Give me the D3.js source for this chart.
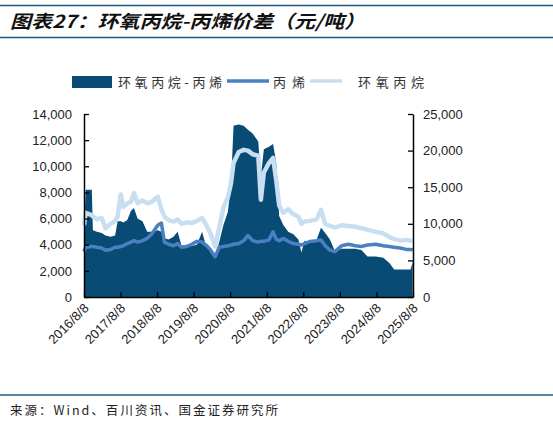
<!DOCTYPE html>
<html>
<head>
<meta charset="utf-8">
<script src="https://cdn.jsdelivr.net/npm/d3@7"></script>
<style>
  body { margin: 0; background: #fff; }
  svg { display: block; }
  .tick text { font-family: Arial, "Liberation Sans", sans-serif; }
</style>
</head>
<body>
<svg id="chart" width="553" height="424"></svg>
<script>
// --- data ---
const dates = [
  "2016-08-08","2016-08-25","2016-10-25","2016-11-05","2016-12-15","2017-02-01","2017-03-10","2017-05-01",
  "2017-06-15","2017-07-10","2017-08-10","2017-09-05","2017-10-15","2017-11-20","2017-12-20","2018-01-25",
  "2018-03-15","2018-05-01","2018-06-15","2018-08-15","2018-09-20","2018-10-20","2018-12-01","2019-01-20",
  "2019-03-01","2019-04-10","2019-06-01","2019-07-20","2019-09-10","2019-11-01","2019-12-10","2020-01-20",
  "2020-03-10","2020-04-20","2020-06-01","2020-07-15","2020-08-15","2020-09-10","2020-11-01","2020-12-20",
  "2021-02-01","2021-03-20","2021-05-15","2021-06-10","2021-07-10","2021-08-30","2021-10-10","2021-11-10",
  "2021-12-10","2022-01-20","2022-03-10","2022-05-01","2022-06-20","2022-07-20","2022-08-20","2022-10-15",
  "2022-12-20","2023-02-01","2023-03-15","2023-05-01","2023-06-20","2023-08-25","2023-11-01","2024-01-10",
  "2024-03-10","2024-05-10","2024-08-01","2024-10-15","2024-12-15","2025-02-01","2025-04-01","2025-06-01",
  "2025-07-15","2025-08-05"
];
// 环氧丙烷-丙烯 spread (left axis)
const spread = [
  4900,8200,8200,5100,5000,4900,4700,4600,
  4700,5800,5800,5700,5900,6600,6800,6000,
  5800,5000,5000,5100,5000,4500,4400,4600,
  5000,3900,4000,3900,4000,5000,3900,3600,
  3000,4200,5500,6500,8500,13100,13200,13100,
  12800,12500,11900,9200,11300,11500,11700,10300,
  6200,5500,5000,4800,4400,3400,4300,4200,
  4400,5300,4900,4400,3500,3700,3700,3700,
  3600,3100,3100,3000,2600,2100,2100,2100,
  2100,2700
];
// 丙烯 (right axis)
const propylene = [
  6200,6800,6900,6900,6800,6700,6400,6500,
  6800,6800,6900,7000,7300,7500,7700,7500,
  7700,8000,8600,9800,10100,7500,7200,7000,
  7300,6800,6900,7200,7600,7500,7100,6500,
  5500,6800,6900,7000,7100,7200,7300,7700,
  8400,7700,7500,7600,7600,7800,8900,7900,
  7700,8000,7600,7300,7200,7100,7300,7600,
  7700,7800,7000,6400,6200,7000,7200,7000,
  6900,7100,7200,7000,6900,6800,6700,6500,
  6500,6400
];
// 环氧丙烷 (right axis)
const epoxy = [
  9800,11500,11200,11000,10600,10800,9400,10000,
  10400,11000,14000,12300,12800,13000,14200,12800,
  13200,12800,13000,13700,12000,11000,10500,10300,
  10600,10000,10200,10100,10400,10800,9900,8800,
  6900,9500,12200,13600,15500,18300,19800,20100,
  20000,19500,19300,13300,17000,18300,19000,16000,
  12500,11500,12000,11300,11000,10000,10300,10400,
  10600,11900,10000,9700,9500,9800,9700,9600,
  9400,9200,8900,8700,8200,7900,7700,7800,
  7700,7700
];
const xTickLabels = ["2016/8/8","2017/8/8","2018/8/8","2019/8/8","2020/8/8",
                     "2021/8/8","2022/8/8","2023/8/8","2024/8/8","2025/8/8"];
const leftTicks = [0,2000,4000,6000,8000,10000,12000,14000];
const rightTicks = [0,5000,10000,15000,20000,25000];
const legendLabels = ["环氧丙烷-丙烯","丙烯","环氧丙烷"];

const cDark = "#084b74", cMid = "#4a80c2", cLight = "#c8dff1";

const parse = d3.timeParse("%Y-%m-%d");
const parseTick = d3.timeParse("%Y/%m/%d");
const rows = dates.map((d, i) => ({ date: parse(d), s: spread[i], p: propylene[i], e: epoxy[i] }));

const svg = d3.select("#chart");
const plotL = 84, plotR = 413, plotT = 114, plotB = 297;

const x = d3.scaleTime()
  .domain([parseTick(xTickLabels[0]), parseTick(xTickLabels[xTickLabels.length - 1])])
  .range([plotL, plotR]);
const yL = d3.scaleLinear().domain([0, 14000]).range([plotB, plotT]);
const yR = d3.scaleLinear().domain([0, 25000]).range([plotB, plotT]);

// title block
svg.append("line").attr("x1", 0).attr("x2", 553).attr("y1", 5.5).attr("y2", 5.5)
  .attr("stroke", "#1f5a7e").attr("stroke-width", 1.5);
svg.append("line").attr("x1", 0).attr("x2", 553).attr("y1", 37.5).attr("y2", 37.5)
  .attr("stroke", "#1f5a7e").attr("stroke-width", 1.5);
svg.append("text")
  .attr("x", 10).attr("y", 28)
  .attr("textLength", 355).attr("lengthAdjust", "spacingAndGlyphs")
  .attr("font-family", "'Noto Sans CJK SC', sans-serif")
  .attr("font-size", 18).attr("font-style", "italic").attr("font-weight", "bold")
  .attr("fill", "#111")
  .text("图表27：环氧丙烷-丙烯价差（元/吨）");

// series
const area = d3.area().x(d => x(d.date)).y0(yL(0)).y1(d => yL(d.s));
svg.append("path").datum(rows).attr("d", area).attr("fill", cDark);

const lineE = d3.line().x(d => x(d.date)).y(d => yR(d.e));
svg.append("path").datum(rows).attr("d", lineE)
  .attr("fill", "none").attr("stroke", cLight).attr("stroke-width", 4.5).attr("stroke-linejoin", "round");

const lineP = d3.line().x(d => x(d.date)).y(d => yR(d.p));
svg.append("path").datum(rows).attr("d", lineP)
  .attr("fill", "none").attr("stroke", cMid).attr("stroke-width", 3.5).attr("stroke-linejoin", "round");

// axes
const fmt = d3.format(",");
const gL = svg.append("g").attr("transform", `translate(${plotL},0)`)
  .call(d3.axisLeft(yL).tickValues(leftTicks).tickFormat(fmt).tickSizeInner(-5).tickSizeOuter(0).tickPadding(12));
const gR = svg.append("g").attr("transform", `translate(${plotR},0)`)
  .call(d3.axisRight(yR).tickValues(rightTicks).tickFormat(fmt).tickSizeInner(-5).tickSizeOuter(0).tickPadding(10));
const gX = svg.append("g").attr("transform", `translate(0,${plotB})`)
  .call(d3.axisBottom(x).tickValues(xTickLabels.map(parseTick)).tickFormat((d, i) => xTickLabels[i])
    .tickSizeInner(-5).tickSizeOuter(0));

[gL, gR, gX].forEach(g => {
  g.select(".domain").attr("stroke", "#000").attr("stroke-width", 1.5);
  g.selectAll(".tick line").attr("stroke", "#000").attr("stroke-width", 1.3);
  g.selectAll(".tick text").attr("font-size", 13).attr("fill", "#222");
});
gX.selectAll(".tick text")
  .attr("text-anchor", "end")
  .attr("dy", 0).attr("y", 0)
  .attr("transform", "translate(5,12) rotate(-45)");

// legend
const lg = svg.append("g").attr("font-family", "'Noto Sans CJK SC', sans-serif").attr("font-size", 13).attr("fill", "#333");
lg.append("rect").attr("x", 72).attr("y", 76).attr("width", 40).attr("height", 12).attr("fill", cDark);
lg.append("text").attr("x", 118).attr("y", 86.5).attr("textLength", 104).attr("lengthAdjust", "spacing").text(legendLabels[0]);
lg.append("line").attr("x1", 227).attr("x2", 269).attr("y1", 81).attr("y2", 81).attr("stroke", cMid).attr("stroke-width", 3.5);
lg.append("text").attr("x", 273).attr("y", 86.5).attr("textLength", 32).attr("lengthAdjust", "spacing").text(legendLabels[1]);
lg.append("line").attr("x1", 310).attr("x2", 342).attr("y1", 81).attr("y2", 81).attr("stroke", cLight).attr("stroke-width", 3.5);
lg.append("text").attr("x", 358).attr("y", 86.5).attr("textLength", 66).attr("lengthAdjust", "spacing").text(legendLabels[2]);

// footer
svg.append("line").attr("x1", 0).attr("x2", 553).attr("y1", 395).attr("y2", 395)
  .attr("stroke", "#1f5a7e").attr("stroke-width", 1.5);
svg.append("text")
  .attr("x", 10).attr("y", 415)
  .attr("textLength", 268).attr("lengthAdjust", "spacing")
  .attr("font-family", "'Noto Sans CJK SC', sans-serif").attr("font-size", 12.5).attr("fill", "#222")
  .text("来源：Wind、百川资讯、国金证券研究所");
</script>
</body>
</html>
